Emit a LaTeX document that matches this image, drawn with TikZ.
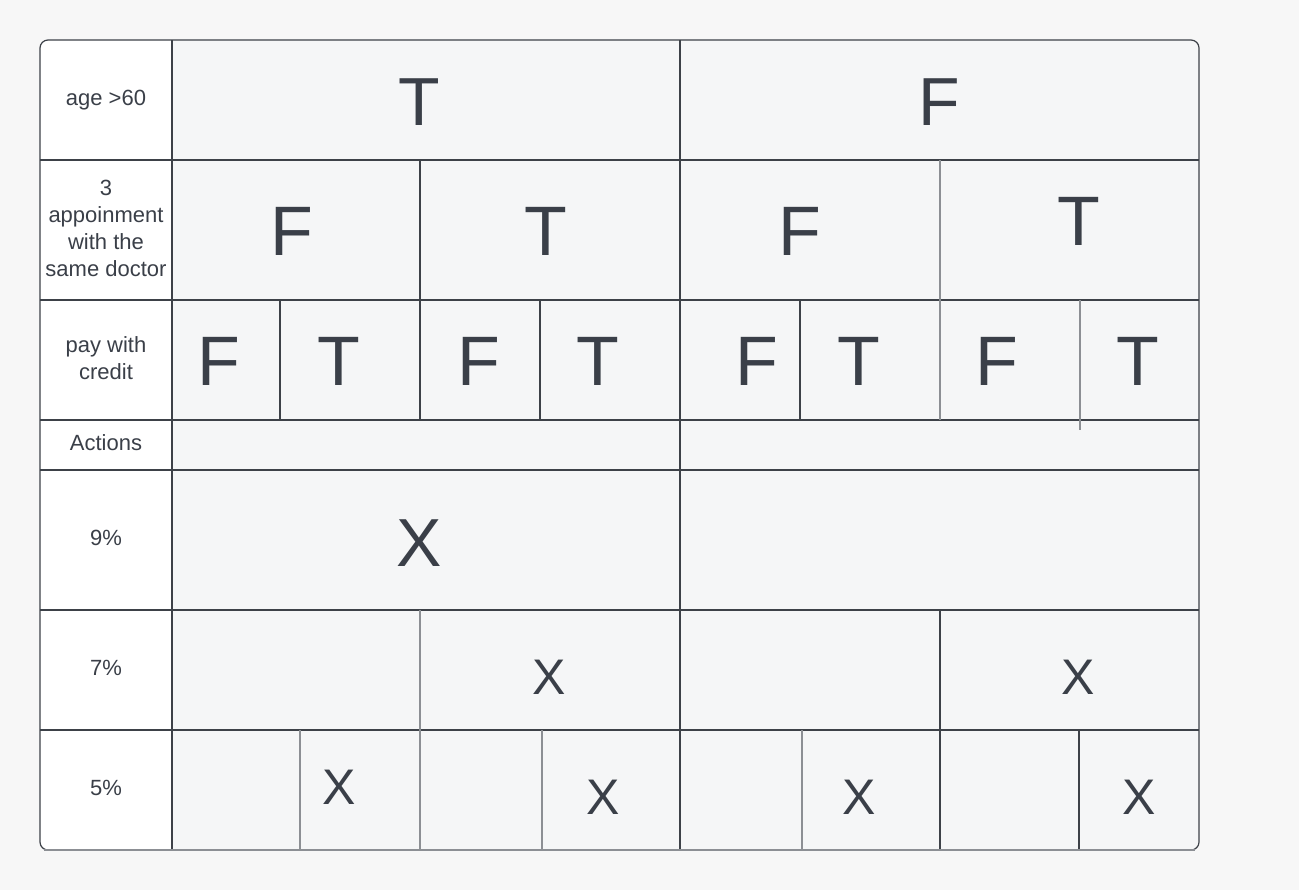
\documentclass[tikz,border=0pt]{standalone}
\usepackage{fontspec}
\setmainfont{Liberation Sans}
\definecolor{bgc}{HTML}{F7F7F7}
\definecolor{cellc}{HTML}{F5F6F7}
\definecolor{darkline}{HTML}{3D4148}
\definecolor{lightline}{HTML}{8C8F94}
\definecolor{txt}{HTML}{3A3F48}
\tikzset{
  dk/.style={draw=darkline, line width=0.6pt},
  lt/.style={draw=lightline, line width=0.6pt},
  lbl/.style={inner sep=0pt, text=txt, font=\fontsize{11pt}{13.5pt}\selectfont, align=center},
  bigA/.style={inner sep=0pt, anchor=base, text=txt, font=\fontsize{34pt}{34pt}\selectfont},
  bigB/.style={inner sep=0pt, anchor=base, text=txt, font=\fontsize{35pt}{35pt}\selectfont},
  midX/.style={inner sep=0pt, anchor=base, text=txt, font=\fontsize{25pt}{25pt}\selectfont},
}
\begin{document}
\begin{tikzpicture}[x=0.5pt, y=-0.5pt]
\fill[bgc] (0,0) rectangle (1299,890);
\useasboundingbox (0,0) rectangle (1299,890);
% fills
\fill[cellc, rounded corners=4] (40,40) rectangle (1199,850);
\begin{scope}
  \clip[rounded corners=4] (40,40) rectangle (1199,850);
  \fill[white] (40,40) rectangle (172,850);
\end{scope}
% horizontal lines
\foreach \yy in {160,300,420,470,610,730} \draw[dk] (40,\yy) -- (1199,\yy);
% verticals
\draw[dk] (172,40) -- (172,850);
\draw[dk] (680,40) -- (680,850);
\draw[dk] (420,160) -- (420,300);
\draw[lt] (940,160) -- (940,300);
\foreach \xx in {280,420,540,800} \draw[dk] (\xx,300) -- (\xx,420);
\draw[lt] (940,300) -- (940,420);
\draw[lt] (1080,300) -- (1080,430);
\draw[lt] (420,610) -- (420,730);
\draw[dk] (940,610) -- (940,730);
\foreach \xx in {300,420,542,802} \draw[lt] (\xx,730) -- (\xx,850);
\draw[dk] (940,730) -- (940,850);
\draw[dk] (1079,730) -- (1079,850);
% outer border
\draw[dk, rounded corners=4] (40,40) rectangle (1199,850);
\draw[lt] (44,850) -- (1195,850);
% labels
\node[lbl, anchor=base] (l1) at (106,105) {age >60};
\node[lbl, anchor=center] (l2) at (106,228) {3\\appoinment\\with the\\same doctor};
\node[lbl, anchor=center] (l3) at (106,358) {pay with\\credit};
\node[lbl, anchor=base] (l4) at (106,450) {Actions};
\node[lbl, anchor=base] (l5) at (106,545) {9\%};
\node[lbl, anchor=base] (l6) at (106,675) {7\%};
\node[lbl, anchor=base] (l7) at (106,795) {5\%};
% row 1
\node[bigA] (r1a) at (419,125) {T};
\node[bigA] (r1b) at (939,125) {F};
% row 2
\node[bigB] (r2a) at (292,255) {F};
\node[bigB] (r2b) at (546,255) {T};
\node[bigB] (r2c) at (800,255) {F};
\node[bigB] (r2d) at (1079,245) {T};
% row 3
\node[bigB] (r3a) at (219,385) {F};
\node[bigB] (r3b) at (339,385) {T};
\node[bigB] (r3c) at (479,385) {F};
\node[bigB] (r3d) at (598,385) {T};
\node[bigB] (r3e) at (757,385) {F};
\node[bigB] (r3f) at (859,385) {T};
\node[bigB] (r3g) at (997,385) {F};
\node[bigB] (r3h) at (1138,385) {T};
% actions
\node[bigA] (x9) at (419,566) {X};
\node[midX] (x7a) at (549,694) {X};
\node[midX] (x7b) at (1078,694) {X};
\node[midX] (x5a) at (339,804) {X};
\node[midX] (x5b) at (603,814) {X};
\node[midX] (x5c) at (859,814) {X};
\node[midX] (x5d) at (1139,814) {X};
\end{tikzpicture}
\end{document}
